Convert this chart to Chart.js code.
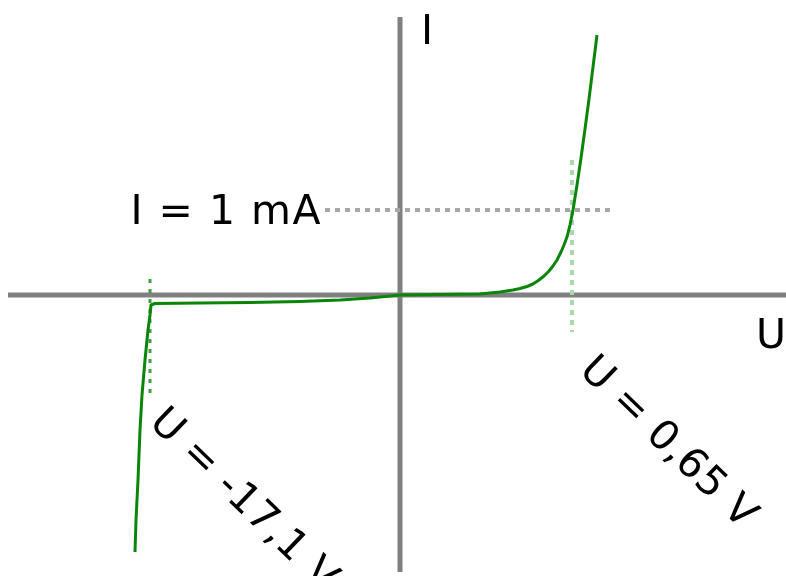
<!DOCTYPE html>
<html lang="de">
<head>
    <meta charset="UTF-8">
    <title>Diodenkennlinie</title>
    <script src="https://cdn.jsdelivr.net/npm/chart.js"></script>
    <style>
        body { margin: 0; background: #fff; }
        #wrap { width: 786px; height: 576px; }
    </style>
</head>
<body>

    <div id="wrap"><canvas id="diodeChart" width="786" height="576"></canvas></div>

    <script>
        // Kennlinie (schematic units, origin at the axis crossing)
        const curveU = [-265, -264, -262, -260, -258, -255, -252, -250, -249, -245, -200, -150, -100, -60, -30, -15, 0,
                        40, 80, 100, 113, 120, 127, 133, 139, 144, 149, 153, 157, 161, 164, 167, 170, 173,
                        177, 181, 185, 189, 193, 197];
        const curveI = [-257, -225, -185, -135, -100, -65, -35, -20, -10, -8.5, -8, -7.5, -6.5, -5, -3, -1.5, 0,
                        0.5, 1, 3, 5, 6.5, 8.5, 11, 15, 19, 24, 29, 35, 43, 50, 58, 70, 85,
                        110, 137, 166, 196, 228, 260];

        // axis extents
        const axisU = [-392, 386];
        const axisI = [-277, 278];
        const axisNames = ["U", "I"];

        // marked operating points
        const kneeU = 172;          // U = 0,65 V
        const markI = 85;           // I = 1 mA
        const breakdownU = -250;    // U = -17,1 V
        const kneeLineI = [135, -37];
        const markLineU = [-75, 215];
        const breakdownLineI = [16, -100];
        const labels = { current: "I = 1 mA", knee: "U = 0,65 V", breakdown: "U = -17,1 V" };

        const pts = (xs, ys) => xs.map((x, i) => ({ x: x, y: ys[i] }));

        // text labels placed relative to the marker lines
        const textPlugin = {
            id: "diodeText",
            afterDatasetsDraw(chart) {
                const c = chart.ctx, sx = chart.scales.x, sy = chart.scales.y;
                c.save();
                c.fillStyle = "#000";
                c.font = "41px 'DejaVu Sans'";
                c.letterSpacing = "1.5px";
                c.textBaseline = "alphabetic";

                // axis names
                c.textAlign = "left";
                c.fillText(axisNames[1], sx.getPixelForValue(0) + 21, sy.getPixelForValue(axisI[1]) + 27);
                c.fillText(axisNames[0], sx.getPixelForValue(axisU[1]) - 30, sy.getPixelForValue(0) + 53);

                // I = 1 mA
                c.textAlign = "right";
                c.fillText(labels.current, sx.getPixelForValue(markLineU[0]) - 3, sy.getPixelForValue(markI) + 14);

                // rotated voltage labels
                c.textAlign = "left";
                c.letterSpacing = "0.5px";
                const rot = (txt, x, y) => {
                    c.save();
                    c.translate(x, y);
                    c.rotate(44 * Math.PI / 180);
                    c.fillText(txt, 0, 0);
                    c.restore();
                };
                rot(labels.knee, sx.getPixelForValue(kneeU) + 6, sy.getPixelForValue(kneeLineI[1]) + 40);
                rot(labels.breakdown, sx.getPixelForValue(breakdownU) - 2, sy.getPixelForValue(breakdownLineI[1]) + 29);
                c.restore();
            }
        };

        const ctx = document.getElementById("diodeChart").getContext("2d");
        new Chart(ctx, {
            type: "scatter",
            data: {
                datasets: [
                    {
                        data: pts(curveU, curveI),
                        showLine: true,
                        borderColor: "#0a850a",
                        borderWidth: 3,
                        borderJoinStyle: "round",
                        pointRadius: 0,
                        order: 0
                    },
                    {
                        data: pts(markLineU, [markI, markI]),
                        showLine: true,
                        borderColor: "#a8a8a8",
                        borderWidth: 4,
                        borderDash: [5, 5],
                        pointRadius: 0,
                        order: 1
                    },
                    {
                        data: pts([kneeU, kneeU], kneeLineI),
                        showLine: true,
                        borderColor: "#a9d8a9",
                        borderWidth: 4,
                        borderDash: [5, 5],
                        pointRadius: 0,
                        order: 1
                    },
                    {
                        data: pts([breakdownU, breakdownU], breakdownLineI),
                        showLine: true,
                        borderColor: "#3f9f3f",
                        borderWidth: 3,
                        borderDash: [4, 6],
                        pointRadius: 0,
                        order: 1
                    },
                    {
                        data: pts(axisU, [0, 0]),
                        showLine: true,
                        borderColor: "#808080",
                        borderWidth: 5,
                        pointRadius: 0,
                        order: 2
                    },
                    {
                        data: pts([0, 0], axisI),
                        showLine: true,
                        borderColor: "#808080",
                        borderWidth: 5,
                        pointRadius: 0,
                        order: 2
                    }
                ]
            },
            options: {
                responsive: false,
                animation: false,
                layout: { padding: 0 },
                plugins: {
                    legend: { display: false },
                    tooltip: { enabled: false }
                },
                scales: {
                    x: { type: "linear", display: false, min: -400, max: 386 },
                    y: { type: "linear", display: false, min: -281, max: 295 }
                }
            },
            plugins: [textPlugin]
        });
    </script>

</body>
</html>
